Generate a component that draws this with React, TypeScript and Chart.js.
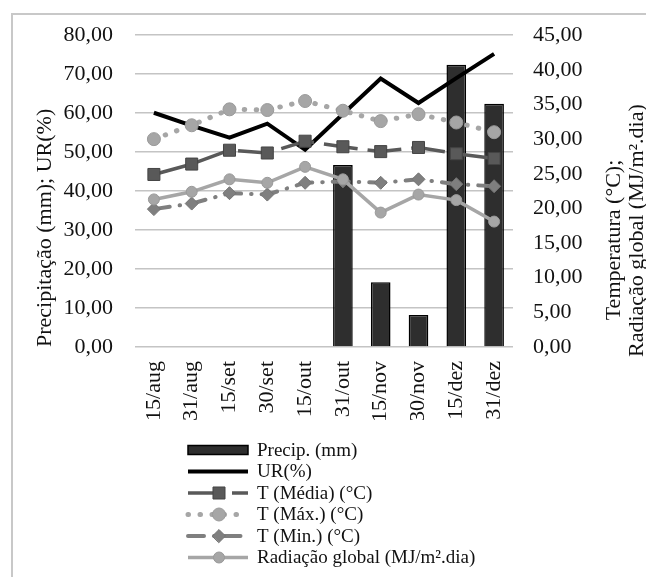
import React, { useEffect, useRef } from 'react';
import { Chart, registerables } from 'chart.js';

Chart.register(...registerables);

const labels = ['15/aug', '31/aug', '15/set', '30/set', '15/out', '31/out', '15/nov', '30/nov', '15/dez', '31/dez'];
const precip = [null, null, null, null, null, 46.7, 16.6, 8.2, 72.4, 62.4];
const ur = [60.1, 56.8, 53.7, 57.3, 50.6, 59.8, 68.9, 62.6, 69.0, 75.2];
const tMedia = [24.9, 26.4, 28.4, 28.0, 29.7, 28.9, 28.2, 28.8, 27.9, 27.2];
const tMax = [30.0, 32.0, 34.3, 34.2, 35.5, 34.1, 32.6, 33.6, 32.4, 31.0];
const tMin = [19.9, 20.7, 22.2, 22.0, 23.7, 23.9, 23.7, 24.2, 23.5, 23.2];
const radiacao = [21.3, 22.4, 24.2, 23.7, 26.0, 24.2, 19.4, 22.0, 21.2, 18.1];

const leftTitle = 'Precipitação (mm); UR(%)';
const rightTitle1 = 'Temperatura (°C);';
const rightTitle2 = 'Radiação global (MJ/m².dia)';

const FONT = '"Liberation Serif", "Times New Roman", serif';

const fmt = (v: any) => Number(v).toFixed(2).replace('.', ',');

function drawMarker(ctx: CanvasRenderingContext2D, style: string, x: number, y: number, r: number) {
  ctx.beginPath();
  if (style === 'rect') {
    const s = Math.SQRT1_2 * r;
    ctx.rect(x - s, y - s, 2 * s, 2 * s);
  } else if (style === 'rectRot') {
    ctx.moveTo(x - r, y);
    ctx.lineTo(x, y - r);
    ctx.lineTo(x + r, y);
    ctx.lineTo(x, y + r);
    ctx.closePath();
  } else {
    ctx.arc(x, y, r, 0, Math.PI * 2);
  }
  ctx.fill();
  ctx.stroke();
}

const extrasPlugin = {
  id: 'extras',
  afterDraw(chart: any) {
    const ctx: CanvasRenderingContext2D = chart.ctx;
    const area = chart.chartArea;
    const xs = chart.scales.x;
    const y1 = chart.scales.y1;
    ctx.save();
    // legend
    const x0 = area.left + 53;
    const x1 = area.left + 113;
    const xm = area.left + 84;
    const tx = area.left + 122;
    const yStart = xs.bottom + 30;
    chart.data.datasets.forEach((ds: any, i: number) => {
      const y = yStart + i * 21.5;
      ctx.save();
      if (ds.type === 'bar') {
        ctx.fillStyle = ds.backgroundColor;
        ctx.strokeStyle = ds.borderColor;
        ctx.lineWidth = 1.5;
        ctx.fillRect(x0, y - 4.5, x1 - x0, 9);
        ctx.strokeRect(x0, y - 4.5, x1 - x0, 9);
      } else {
        ctx.strokeStyle = ds.borderColor;
        ctx.lineWidth = ds.borderWidth;
        ctx.lineCap = ds.borderCapStyle || 'butt';
        ctx.setLineDash(ds.borderDash || []);
        ctx.beginPath();
        ctx.moveTo(x0, y);
        ctx.lineTo(x1, y);
        ctx.stroke();
        ctx.setLineDash([]);
        if (ds.pointRadius > 0) {
          ctx.fillStyle = ds.pointBackgroundColor;
          ctx.strokeStyle = ds.pointBorderColor;
          ctx.lineWidth = 1;
          drawMarker(ctx, ds.pointStyle, xm, y, ds.pointRadius);
        }
      }
      ctx.restore();
      ctx.fillStyle = '#111';
      ctx.font = `19px ${FONT}`;
      ctx.textAlign = 'left';
      ctx.textBaseline = 'middle';
      ctx.fillText(ds.label, tx, y + 1);
    });
    // right axis title
    ctx.fillStyle = '#111';
    ctx.font = `22px ${FONT}`;
    ctx.textBaseline = 'middle';
    ctx.save();
    ctx.translate(y1.right + 31, area.bottom - 107);
    ctx.rotate(-Math.PI / 2);
    ctx.textAlign = 'center';
    ctx.fillText(rightTitle1, 0, 0);
    ctx.restore();
    ctx.save();
    ctx.translate(y1.right + 54, area.bottom + 10);
    ctx.rotate(-Math.PI / 2);
    ctx.textAlign = 'left';
    ctx.fillText(rightTitle2, 0, 0);
    ctx.restore();
    ctx.restore();
  },
};

export default function App() {
  const ref = useRef<HTMLCanvasElement>(null);
  useEffect(() => {
    if (!ref.current) return;
    const chart = new Chart(ref.current, {
      type: 'bar',
      data: {
        labels,
        datasets: [
          {
            type: 'bar',
            label: 'Precip. (mm)',
            data: precip,
            yAxisID: 'y',
            backgroundColor: '#2e2e2e',
            borderColor: '#000',
            borderWidth: 1.5,
            barPercentage: 0.52,
            categoryPercentage: 1,
            order: 6,
          },
          {
            type: 'line',
            label: 'UR(%)',
            data: ur,
            yAxisID: 'y',
            borderColor: '#000',
            borderWidth: 4,
            pointRadius: 0,
            tension: 0,
            order: 5,
          },
          {
            type: 'line',
            label: 'T (Média) (°C)',
            data: tMedia,
            yAxisID: 'y1',
            borderColor: '#595959',
            borderWidth: 3.5,
            borderDash: [34, 10],
            pointStyle: 'rect',
            pointRadius: 8.5,
            pointBackgroundColor: '#595959',
            pointBorderColor: '#444',
            pointBorderWidth: 1,
            tension: 0,
            order: 4,
          },
          {
            type: 'line',
            label: 'T (Máx.) (°C)',
            data: tMax,
            yAxisID: 'y1',
            borderColor: '#a6a6a6',
            borderWidth: 5,
            borderDash: [0.5, 11.5],
            borderCapStyle: 'round',
            pointStyle: 'circle',
            pointRadius: 6.5,
            pointBackgroundColor: '#a6a6a6',
            pointBorderColor: '#9a9a9a',
            pointBorderWidth: 1,
            tension: 0,
            order: 3,
          },
          {
            type: 'line',
            label: 'T (Min.) (°C)',
            data: tMin,
            yAxisID: 'y1',
            borderColor: '#7f7f7f',
            borderWidth: 4,
            borderDash: [16, 10, 0.5, 10],
            borderCapStyle: 'round',
            pointStyle: 'rectRot',
            pointRadius: 6.5,
            pointBackgroundColor: '#7f7f7f',
            pointBorderColor: '#737373',
            pointBorderWidth: 1,
            tension: 0,
            order: 2,
          },
          {
            type: 'line',
            label: 'Radiação global (MJ/m².dia)',
            data: radiacao,
            yAxisID: 'y1',
            borderColor: '#a6a6a6',
            borderWidth: 3.5,
            pointStyle: 'circle',
            pointRadius: 5.5,
            pointBackgroundColor: '#a6a6a6',
            pointBorderColor: '#999',
            pointBorderWidth: 1,
            tension: 0,
            order: 1,
          },
        ] as any,
      },
      options: {
        animation: false,
        responsive: false,
        devicePixelRatio: 1,
        layout: { padding: { left: 28, right: 63, top: 23, bottom: 157 } },
        plugins: { legend: { display: false }, tooltip: { enabled: false } },
        scales: {
          x: {
            offset: true,
            grid: { display: false, drawTicks: false },
            border: { display: false },
            afterFit: (s: any) => { s.height = 73; },
            ticks: {
              minRotation: 90,
              maxRotation: 90,
              padding: 14,
              color: '#111',
              font: { family: FONT, size: 22 },
            },
          },
          y: {
            position: 'left',
            min: 0,
            max: 80,
            grid: { color: '#c4c4c4', lineWidth: 1.5, drawTicks: false },
            border: { display: false },
            afterFit: (s: any) => { s.width = 107; },
            ticks: {
              stepSize: 10,
              padding: 22,
              color: '#111',
              font: { family: FONT, size: 22 },
              callback: (v: any) => fmt(v),
            },
            title: {
              display: true,
              text: leftTitle,
              align: 'start',
              color: '#111',
              padding: { top: 4, bottom: 5 },
              font: { family: FONT, size: 22 },
            },
          },
          y1: {
            position: 'right',
            min: 0,
            max: 45,
            grid: { drawOnChartArea: false, drawTicks: false },
            border: { display: false },
            afterFit: (s: any) => { s.width = 70; },
            ticks: {
              stepSize: 5,
              padding: 20,
              color: '#111',
              font: { family: FONT, size: 22 },
              callback: (v: any) => fmt(v),
            },
          },
        },
      } as any,
      plugins: [extrasPlugin],
    });
    return () => chart.destroy();
  }, []);
  return (
    <div style={{ position: 'fixed', left: 0, top: 0, width: 646, height: 577, overflow: 'hidden', background: '#fff' }}>
      <div
        style={{
          position: 'absolute',
          left: 11,
          top: 13,
          width: 700,
          height: 700,
          border: '2px solid #c8c8c8',
        }}
      />
      <canvas ref={ref} width={646} height={577} style={{ position: 'absolute', left: 0, top: 0, width: 646, height: 577 }} />
    </div>
  );
}
